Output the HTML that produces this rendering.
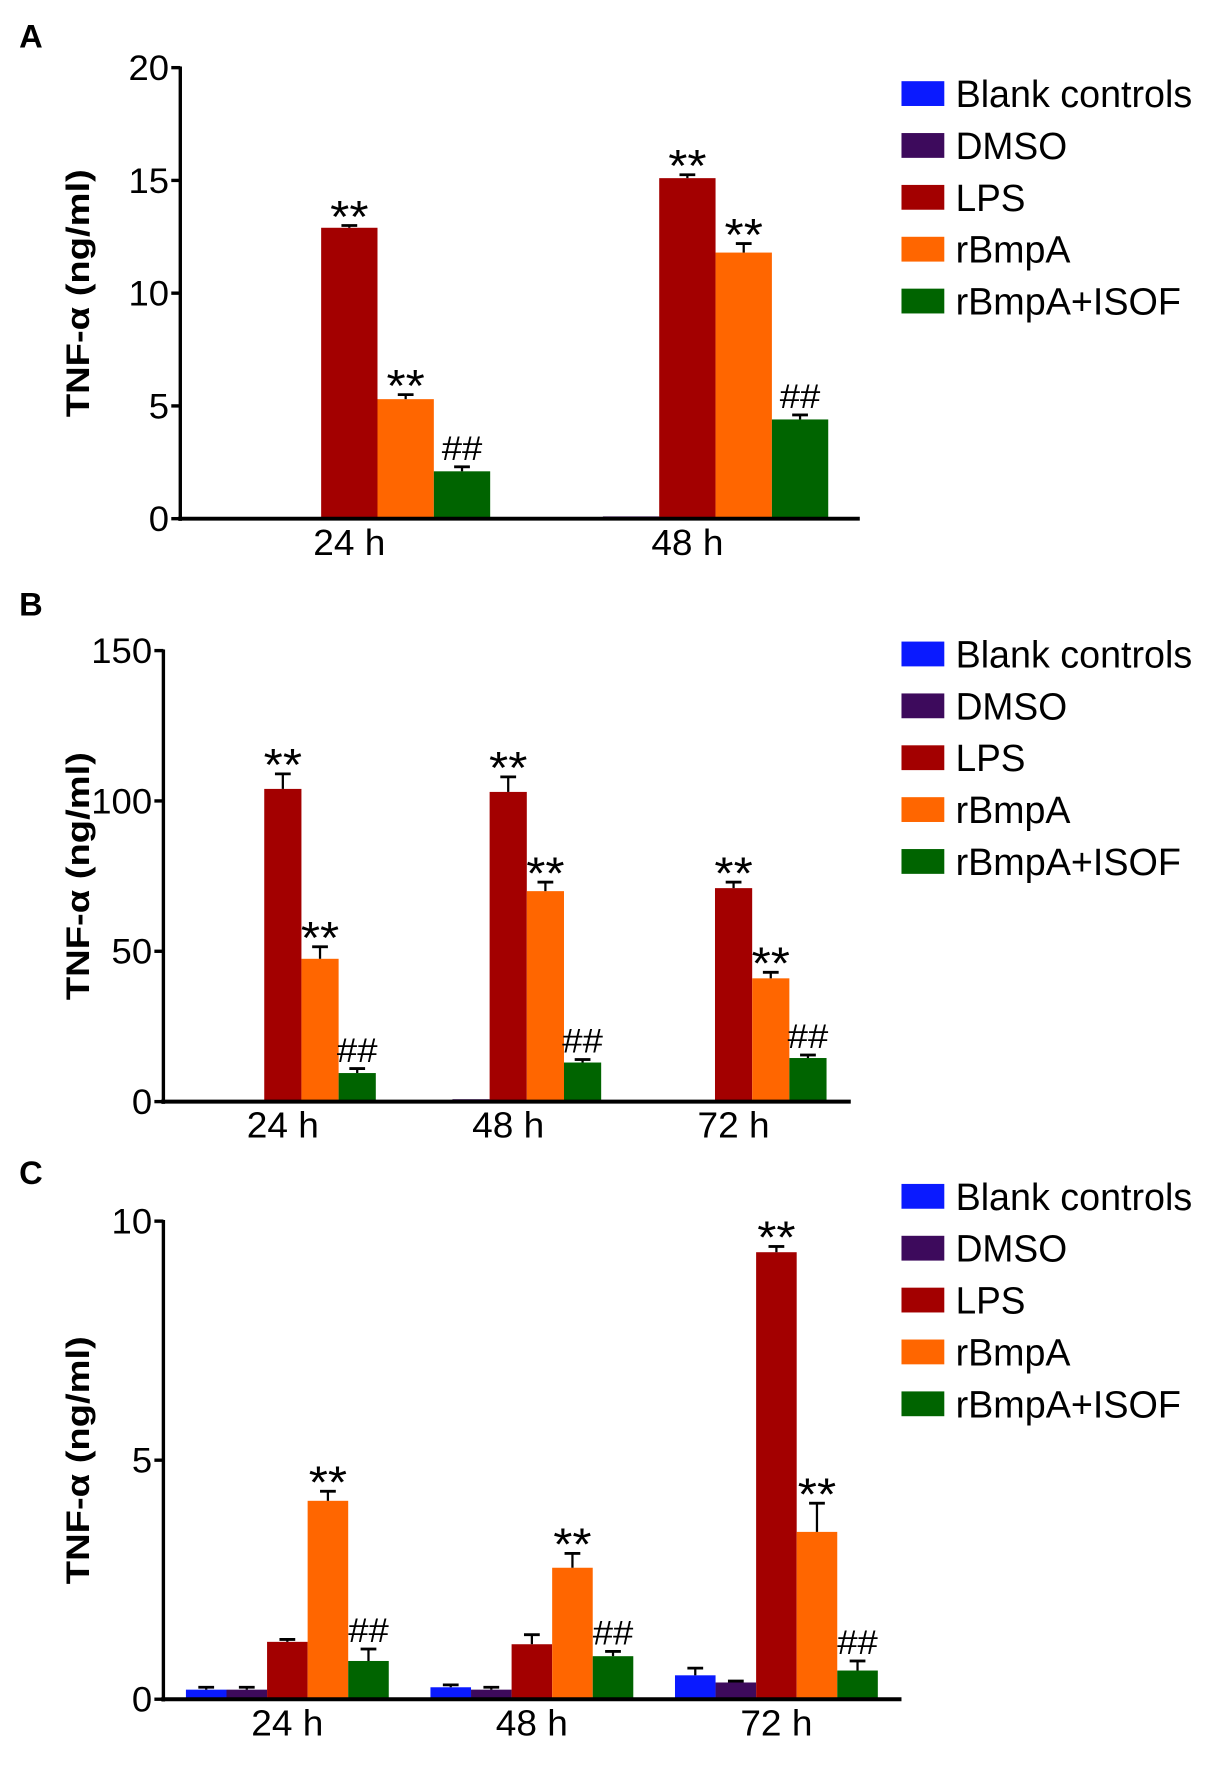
<!DOCTYPE html>
<html><head><meta charset="utf-8"><style>
html,body{margin:0;padding:0;background:#fff;}
svg{display:block;}
text{font-family:"Liberation Sans Narrow","Liberation Sans",sans-serif;}
</style></head><body>
<svg id="fig" width="1217" height="1768" viewBox="0 0 1080 1568" preserveAspectRatio="none" xmlns="http://www.w3.org/2000/svg"></svg>
<script>
const seriesNames = ["Blank controls","DMSO","LPS","rBmpA","rBmpA+ISOF"];
const seriesColors = ["#0a1aff","#3d0a5c","#a30000","#ff6600","#006400"];
// Panel A
const catsA = ["24 h","48 h"];
const valsA = [[0.05,0.05,12.9,5.3,2.1],[0.05,0.1,15.1,11.8,4.4]];
const errsA = [[0,0,0.1,0.2,0.2],[0,0,0.15,0.4,0.2]];
const marksA = [["","","**","**","##"],["","","**","**","##"]];
const ticksA = [0,5,10,15,20];
// Panel B
const catsB = ["24 h","48 h","72 h"];
const valsB = [[0.3,0.3,104,47.5,9.5],[0.5,0.8,103,70,13],[0.3,0.3,71,41,14.5]];
const errsB = [[0,0,5,4,1.5],[0,0,5,3,1],[0,0,2,2,1]];
const marksB = [["","","**","**","##"],["","","**","**","##"],["","","**","**","##"]];
const ticksB = [0,50,100,150];
// Panel C
const catsC = ["24 h","48 h","72 h"];
const valsC = [[0.2,0.2,1.2,4.15,0.8],[0.25,0.2,1.15,2.75,0.9],[0.5,0.35,9.35,3.5,0.6]];
const errsC = [[0.05,0.05,0.05,0.2,0.25],[0.05,0.05,0.2,0.3,0.1],[0.15,0.03,0.12,0.6,0.2]];
const marksC = [["","","","**","##"],["","","","**","##"],["","","**","**","##"]];
const ticksC = [0,5,10];
const legendWidths = [210,99,62,102,200];

const NS="http://www.w3.org/2000/svg";
const svg=document.getElementById('fig');
function mk(tag,attrs,parent){const e=document.createElementNS(NS,tag);for(const k in attrs)e.setAttribute(k,attrs[k]);(parent||svg).appendChild(e);return e;}

function panel(cfg){
  const g=mk('g',{});
  
  
  const ymax=cfg.ticks[cfg.ticks.length-1];
  const y=v=>cfg.y0-(v/ymax)*(cfg.y0-cfg.yTop);
  const lab=mk('text',{x:17,y:cfg.labelY,'font-size':29,'font-weight':'bold','font-family':'Liberation Sans'},g);
  lab.textContent=cfg.id;
  
  
  cfg.cats.forEach((c,i)=>{
    const gx=cfg.firstCenter+i*cfg.spacing;
    cfg.vals[i].forEach((v,j)=>{
      const left=gx-cfg.bw/2+(j-2)*cfg.bw;
      const r=mk('rect',{x:left,y:y(v),width:cfg.bw,height:Math.max(cfg.y0-y(v),0),fill:seriesColors[j]},g);
      
      
      const e=cfg.errs[i][j];
      const cx=left+cfg.bw/2;
      if(e>0){
        mk('line',{x1:cx,x2:cx,y1:y(v),y2:y(v+e),stroke:'#000','stroke-width':2},g);
        mk('line',{x1:cx-7,x2:cx+7,y1:y(v+e),y2:y(v+e),stroke:'#000','stroke-width':2.5},g);
      }
      const m=cfg.marks[i][j];
      if(m){
        const t=mk('text',{x:cx,y:y(v+e)-6+(m==='**'?12:0),'text-anchor':'middle','font-size':m==='**'?40:30,'font-family':'Liberation Sans',textLength:m==='**'?34:36,lengthAdjust:'spacingAndGlyphs'},g);
        t.textContent=m;
        
        
      }
    });
    const t=mk('text',{x:gx,y:cfg.y0+32,'text-anchor':'middle','font-size':32,textLength:64,lengthAdjust:'spacingAndGlyphs'},g);
    t.textContent=c;
    
    
  });
  mk('line',{x1:cfg.ax,x2:cfg.ax,y1:cfg.yTop-1,y2:cfg.y0+2,stroke:'#000','stroke-width':3},g);
  mk('line',{x1:cfg.ax-2,x2:cfg.xEnd,y1:cfg.y0,y2:cfg.y0,stroke:'#000','stroke-width':3.5},g);
  cfg.ticks.forEach(tv=>{
    mk('line',{x1:cfg.ax-8,x2:cfg.ax,y1:y(tv),y2:y(tv),stroke:'#000','stroke-width':3},g);
    const s=String(tv);
    const t=mk('text',{x:cfg.ax-10,y:y(tv)+11,'text-anchor':'end','font-size':31,textLength:s.length*18,lengthAdjust:'spacingAndGlyphs'},g);
    t.textContent=s;
    
    
  });
  const yl=mk('text',{x:0,y:0,'text-anchor':'middle','font-size':29,'font-weight':'bold','font-family':'Liberation Sans',textLength:220,lengthAdjust:'spacingAndGlyphs',transform:`translate(79,${(cfg.y0+cfg.yTop)/2}) rotate(-90)`},g);
  yl.textContent='TNF-α (ng/ml)';
  
  
  seriesNames.forEach((n,j)=>{
    const ly=cfg.legY+j*46;
    const r=mk('rect',{x:800,y:ly-11,width:38,height:22,fill:seriesColors[j]},g);
    
    
    const t=mk('text',{x:848,y:ly+12,'font-size':34,textLength:legendWidths[j],lengthAdjust:'spacingAndGlyphs'},g);
    t.textContent=n;
    
    
  });
}
panel({id:'A',cats:catsA,vals:valsA,errs:errsA,marks:marksA,ticks:ticksA,ax:160,xEnd:763,yTop:60,y0:460,firstCenter:310,spacing:300,bw:50,legY:83,labelY:42});
panel({id:'B',cats:catsB,vals:valsB,errs:errsB,marks:marksB,ticks:ticksB,ax:145,xEnd:755,yTop:577,y0:977,firstCenter:251,spacing:200,bw:33,legY:580,labelY:546});
panel({id:'C',cats:catsC,vals:valsC,errs:errsC,marks:marksC,ticks:ticksC,ax:145,xEnd:800,yTop:1083,y0:1507,firstCenter:255,spacing:217,bw:36,legY:1061,labelY:1050});
</script>
</body></html>
